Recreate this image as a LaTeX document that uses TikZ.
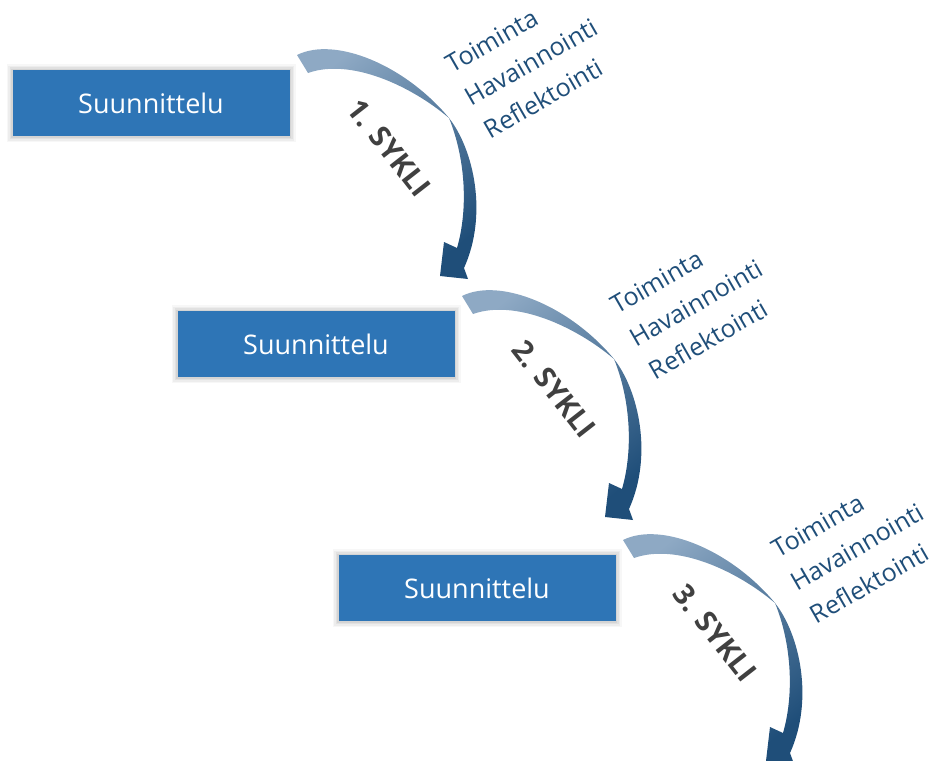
\documentclass[tikz,border=0pt]{standalone}
\usepackage{fontspec}
\setmainfont[Ligatures=NoCommon]{Open Sans}
\definecolor{laatikko}{HTML}{2E75B6}
\definecolor{tummasin}{HTML}{1F4E79}
\definecolor{keskisin}{HTML}{3C71AB}
\definecolor{vaaleasin}{HTML}{8EA9C4}
\definecolor{harmaa}{HTML}{404040}

\begin{document}
\begin{tikzpicture}[x=1pt,y=-1pt,
  laatikko/.style={fill=laatikko,minimum width=277pt,minimum height=66pt,inner sep=0pt,
    text=white,font=\fontsize{27}{33}\selectfont,
    preaction={draw=black,opacity=0.03,line width=12pt},
    preaction={draw=black,opacity=0.04,line width=9pt},
    preaction={draw=black,opacity=0.05,line width=6pt},
    preaction={draw=black,opacity=0.06,line width=3pt}},
  vaiheet/.style={text=tummasin,rotate=30,align=left,inner sep=0pt,anchor=west,
    font=\fontsize{25}{38}\selectfont},
  sykli/.style={text=harmaa,rotate=-52,inner sep=0pt,font=\bfseries\fontsize{29}{34}\selectfont},
  nuoli/.style={top color=vaaleasin,middle color=keskisin,bottom color=tummasin,shading angle=40}]
\useasboundingbox (0,0) rectangle (936,760);
\clip (0,0) rectangle (936,760);

% kolme sykliä, kukin siirretty edellisestä alas oikealle
\foreach \n/\dx/\dy in {1/0/0,2/165/241,3/326/485}{
\begin{scope}[shift={(\dx,\dy)}]
\node[laatikko] (s\n) at (151,103) {Suunnittelu};
\path[nuoli] (297,55) .. controls (335,36) and (405,65) .. (449,118)
  .. controls (474,150) and (488,215) .. (464,268)
  -- (468,279) -- (440,276) -- (444,242) -- (457,248)
  .. controls (468,210) and (466,160) .. (449,118)
  .. controls (410,85) and (350,58) .. (308,73) -- cycle;
\node[sykli] (k\n) at (389,148) {\n. SYKLI};
\node[vaiheet] (v\n) at (467,99) {Toiminta\\Havainnointi\\Reflektointi};
\end{scope}}
\end{tikzpicture}
\end{document}
